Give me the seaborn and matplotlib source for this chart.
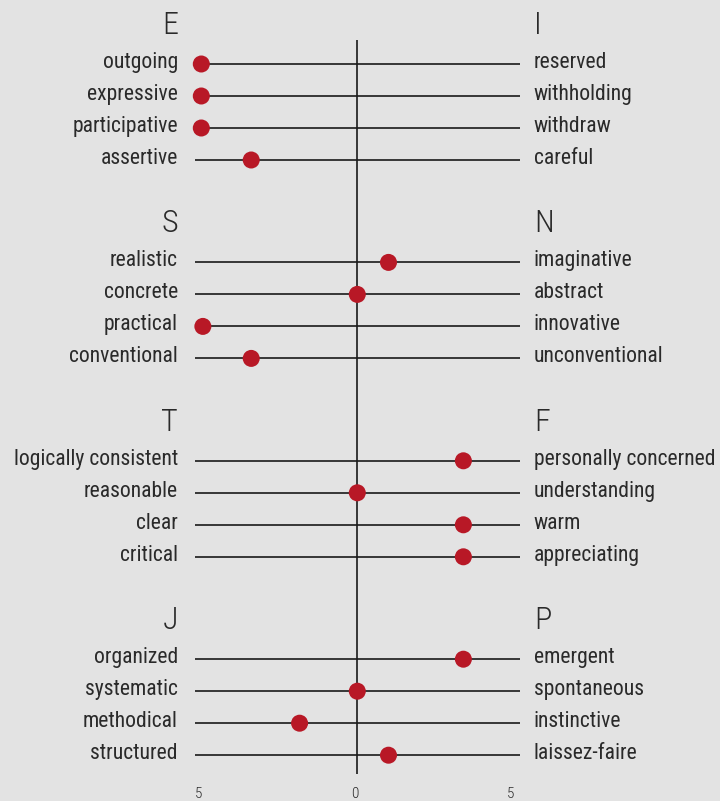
import matplotlib
matplotlib.use("Agg")
import matplotlib.pyplot as plt
import seaborn as sns
import pandas as pd

# ---- data ----
groups = ["E/I", "S/N", "T/F", "J/P"]
left_headers = ["E", "S", "T", "J"]
right_headers = ["I", "N", "F", "P"]
left_labels = [
    ["outgoing", "expressive", "participative", "assertive"],
    ["realistic", "concrete", "practical", "conventional"],
    ["logically consistent", "reasonable", "clear", "critical"],
    ["organized", "systematic", "methodical", "structured"],
]
right_labels = [
    ["reserved", "withholding", "withdraw", "careful"],
    ["imaginative", "abstract", "innovative", "unconventional"],
    ["personally concerned", "understanding", "warm", "appreciating"],
    ["emergent", "spontaneous", "instinctive", "laissez-faire"],
]
scores = [
    [-5.0, -5.0, -5.0, -3.4],
    [1.0, 0.0, -4.95, -3.4],
    [3.4, 0.0, 3.4, 3.4],
    [3.4, 0.0, -1.85, 1.0],
]
tick_values = [-5, 0, 5]
tick_labels = ["5", "0", "5"]

# ---- layout constants ----
W, H, DPI = 720, 801, 100
GROUP_STEP = 6.2
BG = "#e3e3e3"
RED = "#b81826"
TXT = "#2a2a2a"

rows = []
for g in range(len(groups)):
    for i in range(4):
        rows.append({"group": groups[g], "y": g * GROUP_STEP + i,
                     "score": scores[g][i],
                     "left": left_labels[g][i], "right": right_labels[g][i]})
df = pd.DataFrame(rows)

sns.set_theme(style="white", rc={"axes.facecolor": BG, "figure.facecolor": BG})
plt.rcParams["font.family"] = ["Roboto Condensed", "Liberation Sans Narrow", "Roboto", "DejaVu Sans"]

fig = plt.figure(figsize=(W / DPI, H / DPI), dpi=DPI)
ax = fig.add_axes([0, 0, 1, 1])
ax.set_facecolor(BG)

unit_x = 31.2  # px per unit
x0 = 357.3
ax.set_xlim(-x0 / unit_x, (W - x0) / unit_x)
unit_y = 32.0
y0 = 64.0
ax.set_ylim((H - y0) / unit_y, -y0 / unit_y)
ax.axis("off")

# horizontal rules
ax.hlines(df["y"], -5.2, 5.2, color="#1a1a1a", lw=1.2, zorder=1)
# center vertical line
ax.vlines(0, -0.75, 22.2, color="#1a1a1a", lw=1.2, zorder=1)

sns.scatterplot(data=df, x="score", y="y", ax=ax, color=RED, s=150,
                edgecolor="none", zorder=3, legend=False)

fs = 15.6
for _, r in df.iterrows():
    ax.text(-5.75, r["y"] - 0.05, r["left"], ha="right", va="center", fontsize=fs,
            color=TXT)
    ax.text(5.66, r["y"] - 0.05, r["right"], ha="left", va="center", fontsize=fs,
            color=TXT)

for g in range(len(groups)):
    yh = g * GROUP_STEP - 1.2
    ax.text(-5.75, yh, left_headers[g], ha="right", va="center", fontsize=23,
            color=TXT, fontweight="light")
    ax.text(5.66, yh, right_headers[g], ha="left", va="center", fontsize=23,
            color=TXT, fontweight="light")

for v, lab in zip(tick_values, tick_labels):
    ax.text(v - 0.08, (793.5 - y0) / unit_y, lab, ha="center", va="center",
            fontsize=11, color=TXT, fontweight="light")

fig.savefig("out.png", dpi=DPI, facecolor=BG)
